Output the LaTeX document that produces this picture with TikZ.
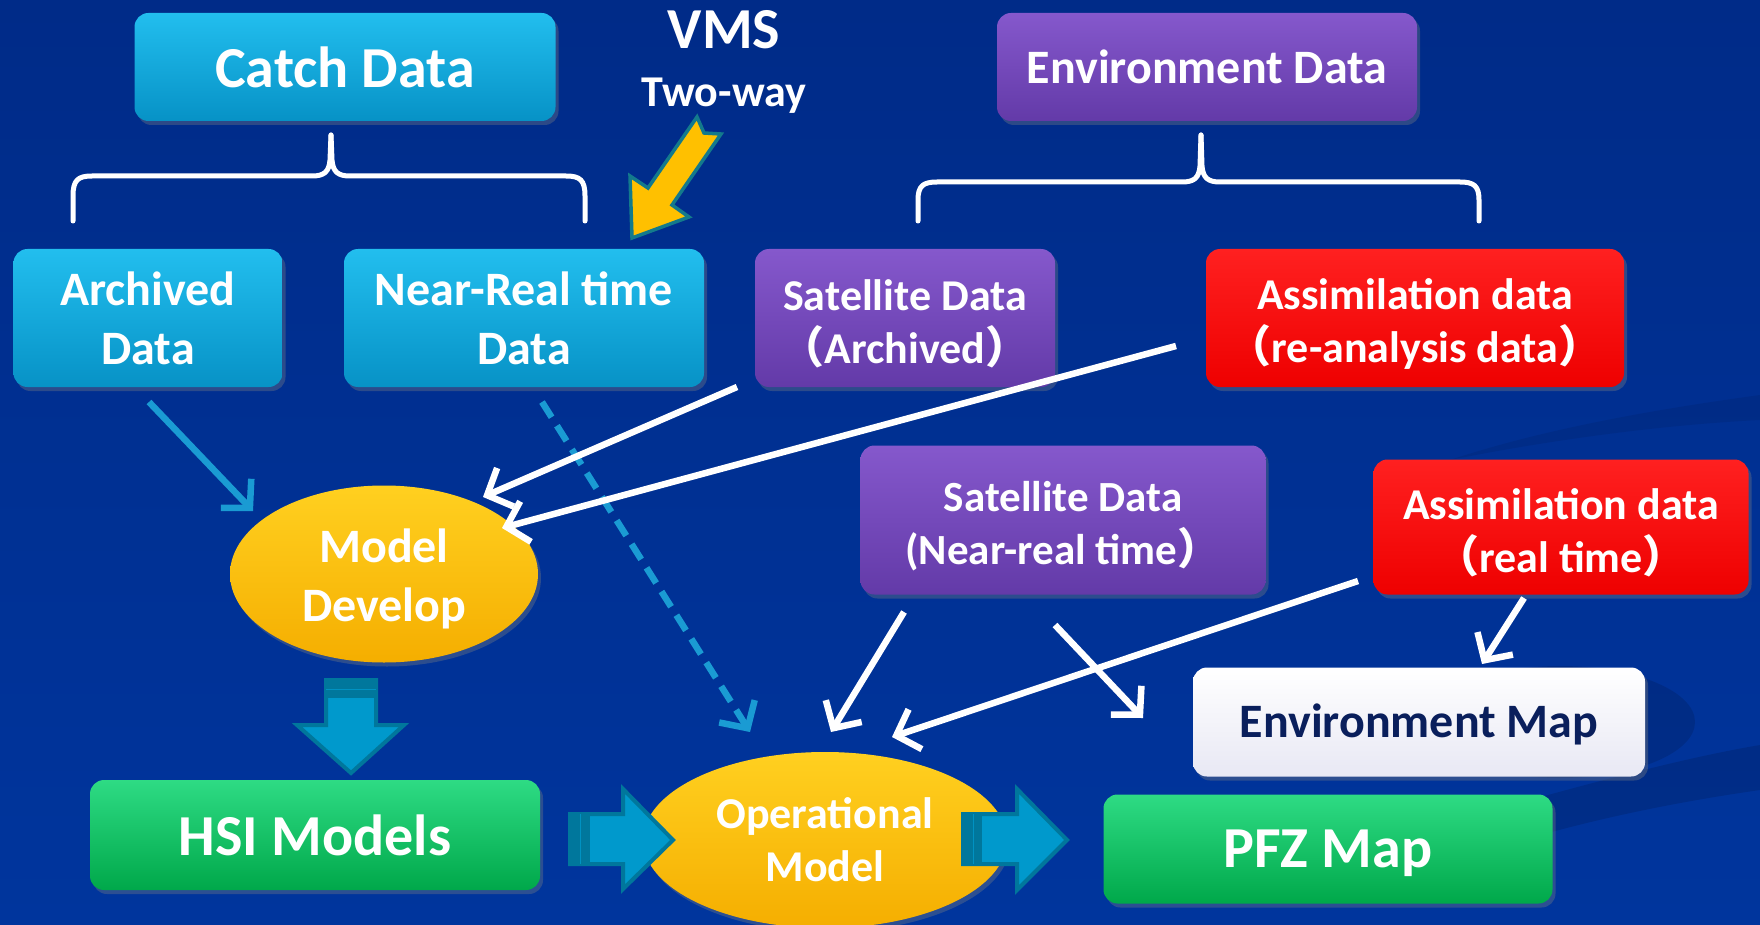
\documentclass[tikz,border=0pt]{standalone}
\usepackage{fontspec}
\setmainfont{Carlito}
\newfontfamily\cjk{Noto Sans CJK SC}
\usetikzlibrary{arrows.meta,shadows,shapes.geometric}

\definecolor{bgtop}{HTML}{002B88}
\definecolor{bgmid}{HTML}{00349B}
\definecolor{bgbot}{HTML}{00359D}
\definecolor{cyanhi}{HTML}{22BEEE}
\definecolor{cyanlo}{HTML}{0792C6}
\definecolor{purphi}{HTML}{8558CC}
\definecolor{purplo}{HTML}{633AA8}
\definecolor{redhi}{HTML}{FF2020}
\definecolor{redlo}{HTML}{EE0000}
\definecolor{grnhi}{HTML}{2EDB84}
\definecolor{grnlo}{HTML}{00A84A}
\definecolor{whthi}{HTML}{FFFFFF}
\definecolor{whtlo}{HTML}{E8E8F4}
\definecolor{golhi}{HTML}{FFD020}
\definecolor{gollo}{HTML}{F5AE00}
\definecolor{navy}{HTML}{0A1F5C}
\definecolor{flowblue}{HTML}{0099CC}
\definecolor{flowedge}{HTML}{00779C}
\definecolor{linkblue}{HTML}{1A9BD3}
\definecolor{vmsgold}{HTML}{FFC000}
\definecolor{vmsedge}{HTML}{137A8C}

\newcommand\setfs[2]{\fontsize{#1}{#2}\selectfont}
\newcommand\fwl{{\cjk （}}
\newcommand\fwr{{\cjk ）}}
% taller first line, so two-line labels sit a little lower in their boxes
\newcommand\lift[1]{\rule{0pt}{#1}}

\begin{document}
\begin{tikzpicture}[x=1pt,y=-1pt,
  box/.style={rounded corners=14pt, align=center, text=white, inner sep=0pt,
    drop shadow={opacity=0.35, shadow xshift=3pt, shadow yshift=-4pt}},
  cyanbox/.style={box, top color=cyanhi, bottom color=cyanlo},
  purpbox/.style={box, top color=purphi, bottom color=purplo},
  redbox/.style={box, top color=redhi, bottom color=redlo},
  grnbox/.style={box, top color=grnhi, bottom color=grnlo},
  whtbox/.style={box, top color=whthi, bottom color=whtlo, text=navy},
  goldell/.style={ellipse, align=center, text=white, inner sep=0pt,
    top color=golhi, bottom color=gollo,
    drop shadow={opacity=0.35, shadow xshift=3pt, shadow yshift=-4pt}},
  brace/.style={draw=white, line width=5pt, line cap=round, line join=round},
  link/.style={line width=6.5pt, -{Straight Barb[length=20pt,width=42pt]}},
  wlink/.style={link, draw=white},
  blink/.style={link, draw=linkblue},
  flow/.style={fill=flowblue, draw=flowedge, line width=4pt, line join=miter},
  flowband/.style={fill=flowedge},
]
\useasboundingbox (0,0) rectangle (1760,925);
% background with faint darker swooshes on the right
\shade[top color=bgtop, middle color=bgmid, bottom color=bgbot] (0,0) rectangle (1760,925);
\fill[black, opacity=0.07] (1760,395) .. controls (1650,410) and (1540,430) .. (1450,460)
  .. controls (1550,440) and (1660,425) .. (1760,420) -- cycle;
\fill[black, opacity=0.12] (1530,800) .. controls (1620,775) and (1700,755) .. (1760,745)
  -- (1760,790) .. controls (1690,800) and (1610,815) .. (1530,838) -- cycle;
\fill[black, opacity=0.12] (1560,722) ellipse [x radius=135, y radius=56];

% top level sources
\node[cyanbox, minimum width=421pt, minimum height=108pt, font=\bfseries\setfs{58}{60}] (catch) at (345,67) {Catch Data};
\node[purpbox, minimum width=420pt, minimum height=108pt, font=\bfseries\setfs{48}{52}] (env) at (1207,67) {Environment Data};

% VMS label
\node[text=white, font=\bfseries\setfs{58}{60}] (vms) at (724,30) {VMS};
\node[text=white, font=\bfseries\setfs{44}{48}] (twoway) at (724,96) {Two-way};

% braces
\draw[brace] (73,221) -- (73,196) .. controls (73,180) and (78,176) .. (92,176)
  -- (312,176) .. controls (324,176) and (329,172) .. (330,160) -- (331,135);
\draw[brace] (331,135) -- (332,160) .. controls (333,172) and (338,176) .. (350,176)
  -- (566,176) .. controls (580,176) and (585,180) .. (585,196) -- (585,221);
\draw[brace] (918,221) -- (918,200) .. controls (918,186) and (923,182) .. (937,182)
  -- (1182,182) .. controls (1194,182) and (1199,178) .. (1200,166) -- (1201,135);
\draw[brace] (1201,135) -- (1202,166) .. controls (1203,178) and (1208,182) .. (1220,182)
  -- (1460,182) .. controls (1474,182) and (1479,186) .. (1479,200) -- (1479,221);

% second level sources
\node[cyanbox, minimum width=269pt, minimum height=138pt, font=\bfseries\setfs{48}{59}] (arch) at (148,318) {Archived\\Data};
\node[cyanbox, minimum width=360pt, minimum height=138pt, font=\bfseries\setfs{48}{59}] (nrt) at (524,318) {Near-Real time\\Data};
\node[purpbox, minimum width=300pt, minimum height=138pt, font=\bfseries\setfs{44}{53}] (satA) at (905,318) {\lift{42pt}Satellite Data\\\fwl Archived\fwr};
\node[redbox, minimum width=418pt, minimum height=138pt, font=\bfseries\setfs{44}{53}] (asmA) at (1415,318) {\lift{42pt}Assimilation data\\\fwl re-analysis data\fwr};
\node[purpbox, minimum width=405pt, minimum height=149pt, font=\bfseries\setfs{43}{53}] (satN) at (1063,520) {\lift{42pt}Satellite Data\\(Near-real time\fwr};
\node[redbox, minimum width=375pt, minimum height=135pt, font=\bfseries\setfs{44}{53}] (asmN) at (1561,527) {\lift{42pt}Assimilation data\\\fwl real time\fwr};

% models and products
\node[goldell, minimum width=308pt, minimum height=177pt, font=\bfseries\setfs{48}{59}] (dev) at (384,574) {\lift{44pt}Model\\Develop};
\node[grnbox, minimum width=450pt, minimum height=110pt, font=\bfseries\setfs{58}{60}] (hsi) at (315,835) {HSI Models};
\node[goldell, minimum width=364pt, minimum height=176pt, font=\bfseries\setfs{44}{53}] (op) at (825,840) {Operational\\Model};
\node[whtbox, minimum width=452pt, minimum height=109pt, font=\bfseries\setfs{48}{52}] (envmap) at (1419,722) {\lift{38pt}Environment Map};
\node[grnbox, minimum width=449pt, minimum height=109pt, font=\bfseries\setfs{58}{60}] (pfz) at (1328,849) {\lift{46pt}PFZ Map};

% VMS arrow into the near-real time catch data
\filldraw[fill=vmsgold, draw=vmsedge, line width=3.5pt, line join=miter]
  (632,238) -- (689,217) -- (672,205) -- (721,134) -- (704,133) -- (697,117)
  -- (648,188) -- (630,176) -- cycle;

% connector end points
\coordinate (archOut) at (149,402);
\coordinate (devInA) at (253,511);
\coordinate (nrtOut) at (542,402);
\coordinate (opInA) at (750,732);
\coordinate (satAOut) at (737,387);
\coordinate (devInB) at (483,497);
\coordinate (asmAOut) at (1176,346);
\coordinate (devInC) at (502,528);
\coordinate (satNOutA) at (904,612);
\coordinate (opInB) at (831,732);
\coordinate (satNOutB) at (1055,625);
\coordinate (pfzIn) at (1143,718);
\coordinate (asmNOutA) at (1358,581);
\coordinate (opInC) at (892,737);
\coordinate (asmNOutB) at (1524,598);
\coordinate (envmapIn) at (1482,664);

% thin connectors
\draw[blink] (archOut) -- (devInA);
\draw[blink, dash pattern=on 18pt off 10pt] (nrtOut) -- (opInA);
\draw[wlink] (satAOut) -- (devInB);
\draw[wlink] (asmAOut) -- (devInC);
\draw[wlink] (satNOutA) -- (opInB);
\draw[wlink] (satNOutB) -- (pfzIn);
\draw[wlink] (asmNOutA) -- (opInC);
\draw[wlink] (asmNOutB) -- (envmapIn);

% block arrows between the model stages
\filldraw[flow] (326,680) -- (376,680) -- (376,725) -- (404,725) -- (351,773) -- (297,725) -- (326,725) -- cycle;
\fill[flowband] (324,678) rectangle (378,698);
\draw[flowblue!80!flowedge, line width=1pt] (326,689) -- (376,689);

\filldraw[flow] (570,814) -- (623,814) -- (623,789) -- (673,840) -- (623,889) -- (623,864) -- (570,864) -- cycle;
\fill[flowband] (568,812) rectangle (590,866);
\draw[flowblue!80!flowedge, line width=1pt] (580,814) -- (580,864);

\filldraw[flow] (963,814) -- (1017,814) -- (1017,789) -- (1067,840) -- (1017,890) -- (1017,864) -- (963,864) -- cycle;
\fill[flowband] (961,812) rectangle (982,866);
\draw[flowblue!80!flowedge, line width=1pt] (973,814) -- (973,864);
\end{tikzpicture}
\end{document}
